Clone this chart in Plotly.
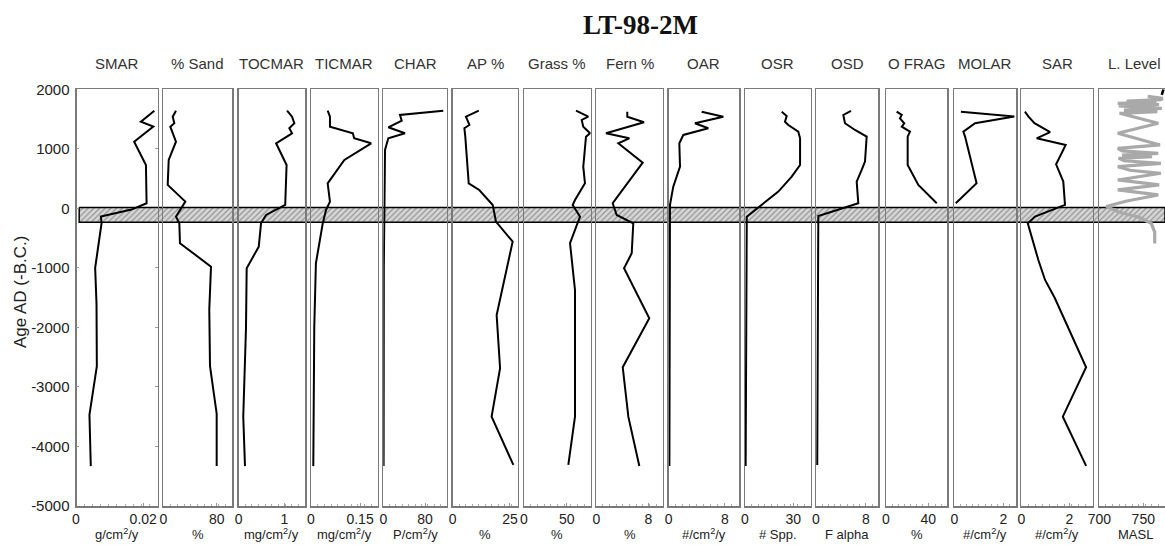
import plotly.graph_objects as go

# ---------------- data ----------------
panel_titles = ["SMAR", "% Sand", "TOCMAR", "TICMAR", "CHAR", "AP %", "Grass %", "Fern %",
                "OAR", "OSR", "OSD", "O FRAG", "MOLAR", "SAR", "L. Level"]
panel_units = ["g/cm<sup>2</sup>/y", "%", "mg/cm<sup>2</sup>/y", "mg/cm<sup>2</sup>/y",
               "P/cm<sup>2</sup>/y", "%", "%", "%", "#/cm<sup>2</sup>/y", "# Spp.",
               "F alpha", "%", "#/cm<sup>2</sup>/y", "#/cm<sup>2</sup>/y", "MASL"]
x_tick_values = [[0, 0.02], [0, 80], [0, 1], [0, 0.15], [0, 80], [0, 25], [0, 50], [0, 8],
                 [0, 8], [0, 30], [0, 8], [0, 40], [0, 2], [0, 2], [700, 750]]
x_tick_labels = [["0", "0.02"], ["0", "80"], ["0", "1"], ["0", "0.15"], ["0", "80"],
                 ["0", "25"], ["0", "50"], ["0", "8"], ["0", "8"], ["0", "30"], ["0", "8"],
                 ["0", "40"], ["0", "2"], ["0", "2"], ["700", "750"]]
age_ticks = [2000, 1000, 0, -1000, -2000, -3000, -4000, -5000]
age_tick_labels = ["2000", "1000", "0", "-1000", "-2000", "-3000", "-4000", "-5000"]

smar_age = [1640, 1457, 1373, 1120, 729, 86, -20, -139, -250, -1000, -1600, -2650, -3470, -4330]
smar_val = [0.0233, 0.0193, 0.0230, 0.0173, 0.0208, 0.0210, 0.0165, 0.0074, 0.0076, 0.0057,
            0.0061, 0.0062, 0.0040, 0.0044]

sand_age = [1640, 1540, 1430, 1372, 1120, 813, 393, 113, -139, -250, -586, -979, -1700, -2650, -3450, -4330]
sand_val = [19.0, 14.1, 16.5, 10.5, 19.0, 8.1, 6.6, 33.0, 19.0, 24.0, 25.0, 71.5, 68.9, 70.0, 80.0, 80.0]

tocmar_age = [1640, 1540, 1430, 1345, 1261, 1093, 729, 57, -111, -250, -643, -1006, -2000, -3000, -3500, -4330]
tocmar_val = [1.06, 1.17, 1.22, 1.11, 1.17, 0.82, 1.05, 1.02, 0.60, 0.49, 0.44, 0.175, 0.16, 0.127, 0.10, 0.138]

ticmar_age = [1640, 1540, 1372, 1261, 1177, 1093, 813, 533, 421, 113, -27, -250, -922, -2000, -4330]
ticmar_val = [0.051, 0.058, 0.058, 0.128, 0.132, 0.184, 0.102, 0.066, 0.051, 0.058, 0.046,
              0.036, 0.015, 0.010, 0.007]

char_age = [1641, 1569, 1474, 1362, 1261, 1177, 981, 113, -1000, -4330]
char_val = [115.0, 32.0, 35.3, 9.6, 41.6, 9.6, 3.3, 1.9, 1.0, 0.6]

ap_age = [1641, 1540, 1401, 1345, 1205, 421, 309, 57, -223, -559, -1791, -2686, -3499, -4310]
ap_val = [11.4, 5.8, 7.3, 5.1, 5.5, 7.0, 11.6, 17.5, 18.9, 26.2, 19.2, 20.7, 17.0, 26.5]

grass_age = [1641, 1540, 1485, 1372, 1261, 1205, 700, 421, 141, 57, -139, -363, -586, -1371, -3499, -4310]
grass_val = [60.9, 75.3, 67.6, 69.4, 77.3, 72.6, 69.4, 71.4, 59.7, 57.0, 65.6, 59.7, 53.9,
             59.7, 59.7, 51.9]

fern_age = [1624, 1540, 1446, 1261, 1177, 1093, 768, 86, -111, -223, -250, -755, -1006,
            -1846, -2669, -3499, -4327]
fern_val = [4.76, 4.76, 7.33, 1.49, 5.07, 3.38, 7.13, 2.52, 3.13, 5.18, 5.68, 5.44, 4.26,
            8.14, 4.06, 4.92, 6.61]

oar_age = [1624, 1540, 1430, 1345, 1233, 1093, 700, 364, 57, -4330]
oar_val = [4.69, 7.77, 3.74, 5.63, 2.08, 1.51, 1.61, 0.65, 0.18, 0.1]

osr_age = [1624, 1552, 1457, 1401, 1289, 1177, 729, 533, 281, 57, -139, -4330]
osr_val = [22.8, 25.9, 24.8, 26.9, 33.1, 34.2, 34.2, 29.0, 20.7, 10.4, 1.1, 0.4]

osd_age = [1636, 1569, 1430, 1317, 1205, 785, 645, 449, 86, -128, -4310]
osd_val = [5.6, 4.37, 4.64, 6.24, 8.11, 7.84, 7.31, 6.51, 6.77, 0.37, 0.2]

ofrag_age = [1624, 1569, 1513, 1430, 1373, 1289, 1205, 729, 393, 86]
ofrag_val = [10.1, 14.9, 13.2, 17.3, 14.9, 22.7, 20.5, 20.5, 30.6, 48.0]

molar_age = [1624, 1545, 1430, 1289, 1205, 421, 86]
molar_val = [0.27, 2.45, 0.85, 0.37, 0.44, 0.91, 0.06]

sar_age = [1624, 1540, 1430, 1280, 1177, 1065, 740, 450, 57, -139, -250, -867, -1203,
           -1510, -2669, -3499, -4327]
sar_val = [0.15, 0.30, 0.55, 1.20, 0.64, 1.85, 1.45, 1.75, 1.82, 0.57, 0.27, 0.71, 0.99,
           1.40, 2.70, 1.73, 2.70]

level_age = [-590, -400, -250, -150, -60, 30, 120, 225, 309, 393, 477, 589, 640, 700, 757,
             800, 841, 870, 895, 925, 965, 1009, 1065, 1261, 1429, 1597, 1625, 1650, 1681,
             1705, 1720, 1745, 1765, 1785, 1800, 1825, 1850, 1880]
level_val = [763, 763, 759, 745, 722, 708, 730, 767, 721, 768, 721, 770, 735, 721, 770,
             728, 722, 760, 726, 767, 726, 721, 769, 721, 767, 723, 766, 728, 771, 730, 722,
             768, 721, 765, 731, 770, 772, 755]
level_top_age = [1905, 2000]
level_top_val = [771, 773]

band_top_age = 15
band_bottom_age = -235

series = [(smar_age, smar_val), (sand_age, sand_val), (tocmar_age, tocmar_val),
          (ticmar_age, ticmar_val), (char_age, char_val), (ap_age, ap_val),
          (grass_age, grass_val), (fern_age, fern_val), (oar_age, oar_val),
          (osr_age, osr_val), (osd_age, osd_val), (ofrag_age, ofrag_val),
          (molar_age, molar_val), (sar_age, sar_val), (level_age, level_val)]

# ---------------- layout settings ----------------
W, H = 1165, 545


def px(X):
    return X / W


def py(Y):
    return 1 - Y / H


panel_px = [(76, 157.7), (163.3, 232.3), (238.7, 305), (311, 377.7), (383.3, 446.7),
            (452.7, 517.7), (524, 590.7), (596.3, 662.7), (668.7, 739), (745, 810.7),
            (816, 878.3), (886, 947.3), (954.3, 1016), (1021.3, 1092.7), (1099.3, 1165)]
x_ranges = [[0, 0.0243], [0, 103.4], [0, 1.454], [0, 0.204], [0, 121.6], [0, 28.4],
            [0, 78.1], [0, 10.2], [0, 10], [0, 40.8], [0, 9.97], [0, 58], [0, 2.52],
            [0, 2.975], [700, 774.7]]
plot_top_px, plot_bot_px = 89.3, 506
FONT = "Liberation Sans, Arial, sans-serif"
FRAME = "#7a7a7a"

fig = go.Figure()

# hatched reference band (drawn first -> underneath)
fig.add_trace(go.Scatter(
    x=[0.002, 1, 1, 0.002, 0.002],
    y=[band_top_age, band_top_age, band_bottom_age, band_bottom_age, band_top_age],
    xaxis="x", yaxis="y", mode="lines", fill="toself",
    fillcolor="rgba(200,200,200,0.6)",
    fillpattern=dict(shape="/", fgcolor="#505050", bgcolor="rgba(215,215,215,1)",
                     size=4, solidity=0.3),
    line=dict(color="black", width=1.5), hoverinfo="skip", showlegend=False))

layout = dict(
    width=W, height=H, margin=dict(l=0, r=0, t=0, b=0, autoexpand=False),
    paper_bgcolor="white", plot_bgcolor="rgba(0,0,0,0)",
    showlegend=False, font=dict(family=FONT, color="#222"),
    xaxis=dict(domain=[px(panel_px[0][0] + 1), 1.0], range=[0, 1], visible=False,
               anchor="y", fixedrange=True, automargin=False),
    yaxis=dict(domain=[py(plot_bot_px), py(plot_top_px)], range=[-5000, 2000],
               anchor="x2", showline=True, mirror="all", linecolor=FRAME, linewidth=1.5,
               tickmode="array", tickvals=age_ticks, ticktext=age_tick_labels,
               ticks="inside", ticklen=3, tickcolor="#999", showgrid=False, zeroline=False,
               tickfont=dict(size=15, color="#222"), ticklabelstandoff=2,
               automargin=False, fixedrange=True),
)

annotations = []
for i, (ages, vals) in enumerate(series):
    n = i + 2
    l, r = panel_px[i]
    rng = x_ranges[i]
    last = i == len(series) - 1
    layout[f"xaxis{n}"] = dict(
        domain=[px(l), min(px(r), 1.0)], range=rng, anchor="y",
        showline=True, mirror=True, linecolor=FRAME, linewidth=1.5,
        tickmode="array", tickvals=x_tick_values[i], ticktext=x_tick_labels[i],
        ticks="inside", ticklen=3, tickcolor="#999",
        minor=dict(ticks="inside", ticklen=2, tickcolor="#aaa",
                   tick0=rng[0], dtick=(rng[1] - rng[0]) / 10),
        showgrid=False, zeroline=False, tickfont=dict(size=14, color="#222"),
        automargin=False, fixedrange=True)
    if last:
        fig.add_trace(go.Scatter(x=vals, y=ages, xaxis=f"x{n}", yaxis="y", mode="lines",
                                 line=dict(color="#a9a9a9", width=3.2), hoverinfo="skip"))
        fig.add_trace(go.Scatter(x=level_top_val, y=level_top_age, xaxis=f"x{n}", yaxis="y",
                                 mode="lines", line=dict(color="black", width=2.5),
                                 hoverinfo="skip"))
    else:
        fig.add_trace(go.Scatter(x=vals, y=ages, xaxis=f"x{n}", yaxis="y", mode="lines",
                                 line=dict(color="black", width=2), hoverinfo="skip"))
    if last:
        annotations.append(dict(text=panel_titles[i], x=px(1163), y=py(63), xref="paper",
                                yref="paper", showarrow=False, xanchor="right",
                                yanchor="middle", font=dict(size=15, color="#333")))
    else:
        annotations.append(dict(text=panel_titles[i], x=px((l + r) / 2), y=py(63),
                                xref="paper", yref="paper", showarrow=False,
                                xanchor="center", yanchor="middle",
                                font=dict(size=15, color="#333")))
    ux = (l + r) / 2 if not last else 1135
    annotations.append(dict(text=panel_units[i], x=px(ux), y=py(534), xref="paper",
                            yref="paper", showarrow=False, xanchor="center", yanchor="middle",
                            font=dict(size=13, color="#222")))

annotations.append(dict(text="<b>LT-98-2M</b>", x=px(640), y=py(25), xref="paper",
                        yref="paper", showarrow=False, xanchor="center", yanchor="middle",
                        font=dict(size=27, family="Liberation Serif, Times New Roman, serif",
                                  color="#111")))
annotations.append(dict(text="Age AD (-B.C.)", x=px(20), y=py(292), xref="paper",
                        yref="paper", showarrow=False, textangle=-90, xanchor="center",
                        yanchor="middle", font=dict(size=17, color="#222")))
layout["annotations"] = annotations
fig.update_layout(**layout)

fig.write_html("out.html",
               config={"displayModeBar": False, "staticPlot": True},
               post_script="document.body.style.margin='0';"
                           "document.body.style.overflow='hidden';")
